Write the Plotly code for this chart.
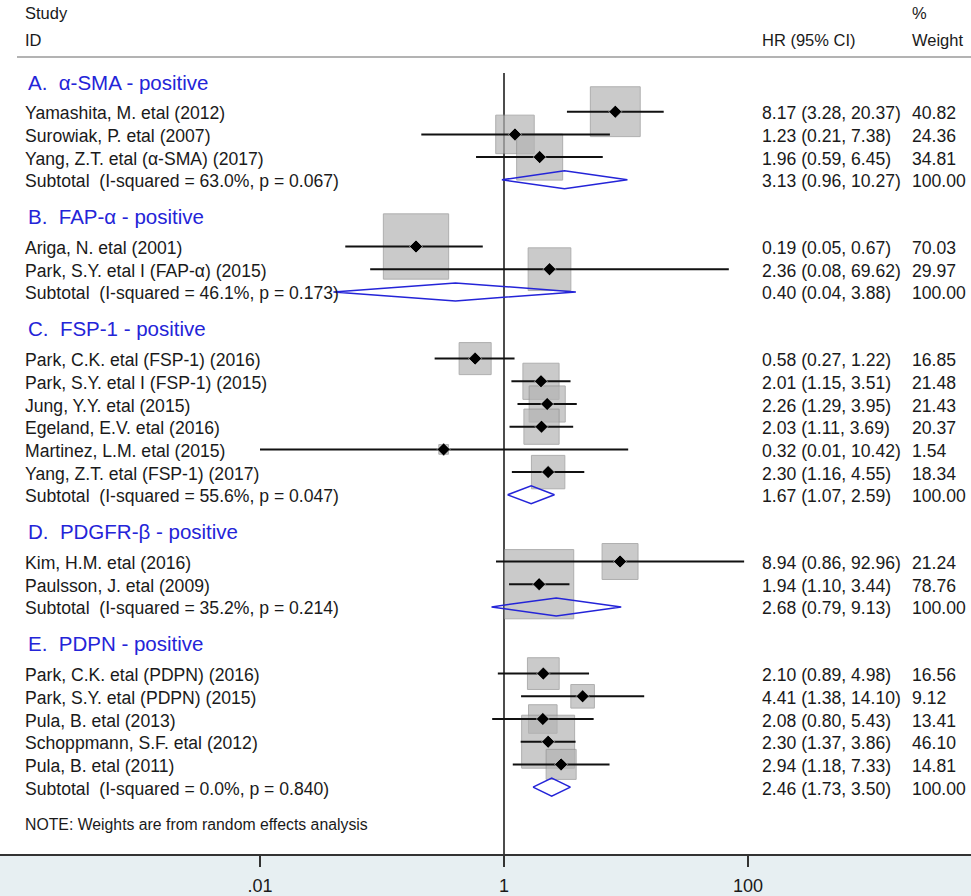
import math
import plotly.graph_objects as go

# ---------------- data ----------------
group_titles = ["A.\u00a0 α-SMA - positive", "B.\u00a0 FAP-α - positive", "C.\u00a0 FSP-1 - positive",
                "D.\u00a0 PDGFR-β - positive", "E.\u00a0 PDPN - positive"]

a_names = ["Yamashita, M. etal (2012)", "Surowiak, P. etal (2007)", "Yang, Z.T. etal (α-SMA) (2017)"]
a_hr = [8.17, 1.23, 1.96]
a_lo = [3.28, 0.21, 0.59]
a_hi = [20.37, 7.38, 6.45]
a_w = [40.82, 24.36, 34.81]

b_names = ["Ariga, N. etal (2001)", "Park, S.Y. etal I (FAP-α) (2015)"]
b_hr = [0.19, 2.36]
b_lo = [0.05, 0.08]
b_hi = [0.67, 69.62]
b_w = [70.03, 29.97]

c_names = ["Park, C.K. etal (FSP-1) (2016)", "Park, S.Y. etal I (FSP-1) (2015)", "Jung, Y.Y. etal (2015)",
           "Egeland, E.V. etal (2016)", "Martinez, L.M. etal (2015)", "Yang, Z.T. etal (FSP-1) (2017)"]
c_hr = [0.58, 2.01, 2.26, 2.03, 0.32, 2.30]
c_lo = [0.27, 1.15, 1.29, 1.11, 0.01, 1.16]
c_hi = [1.22, 3.51, 3.95, 3.69, 10.42, 4.55]
c_w = [16.85, 21.48, 21.43, 20.37, 1.54, 18.34]

d_names = ["Kim, H.M. etal (2016)", "Paulsson, J. etal (2009)"]
d_hr = [8.94, 1.94]
d_lo = [0.86, 1.10]
d_hi = [92.96, 3.44]
d_w = [21.24, 78.76]

e_names = ["Park, C.K. etal (PDPN) (2016)", "Park, S.Y. etal (PDPN) (2015)", "Pula, B. etal (2013)",
           "Schoppmann, S.F. etal (2012)", "Pula, B. etal (2011)"]
e_hr = [2.10, 4.41, 2.08, 2.30, 2.94]
e_lo = [0.89, 1.38, 0.80, 1.37, 1.18]
e_hi = [4.98, 14.10, 5.43, 3.86, 7.33]
e_w = [16.56, 9.12, 13.41, 46.10, 14.81]

sub_i2 = ["63.0%", "46.1%", "55.6%", "35.2%", "0.0%"]
sub_p = ["0.067", "0.173", "0.047", "0.214", "0.840"]
sub_hr = [3.13, 0.40, 1.67, 2.68, 2.46]
sub_lo = [0.96, 0.04, 1.07, 0.79, 1.73]
sub_hi = [10.27, 3.88, 2.59, 9.13, 3.50]

tick_vals = [0.01, 1, 100]
tick_text = [".01", "1", "100"]

note_text = "NOTE: Weights are from random effects analysis"

# ---------------- layout constants ----------------
W, H = 971, 896
BOTTOM = 42
PLOT_H = H - BOTTOM
X_ONE_PX = 504.0
DEC_PX = 122.0
x_range = [(0 - X_ONE_PX) / DEC_PX, (W - X_ONE_PX) / DEC_PX]

Y_START = 82.0
GAP_HEAD = 29.7
STEP = 22.7
GAP_GROUP = 37.0
TEXT_DY = 1.5

LABEL_X = 25
HR_X = 762
WT_X = 912
FONT = "Liberation Sans, Arial, sans-serif"
TXT = "#1a1a1a"
BLUE = "#2424d8"
BOX_K = 7.8
FS = 17.6

groups = [
    (a_names, a_hr, a_lo, a_hi, a_w),
    (b_names, b_hr, b_lo, b_hi, b_w),
    (c_names, c_hr, c_lo, c_hi, c_w),
    (d_names, d_hr, d_lo, d_hi, d_w),
    (e_names, e_hr, e_lo, e_hi, e_w),
]

fig = go.Figure()
annotations = []


def px_to_paper(px):
    return px / W


def add_text(xpx, y, text, size=FS, color=TXT):
    annotations.append(dict(x=px_to_paper(xpx), y=y, xref="paper", yref="y",
                            text=text, showarrow=False, xanchor="left", yanchor="middle",
                            xshift=-2, font=dict(family=FONT, size=size, color=color)))


# reference line at HR = 1 (drawn first, beneath boxes)
fig.add_trace(go.Scatter(x=[1, 1], y=[73, PLOT_H], mode="lines",
                         line=dict(color="#111111", width=1.5), hoverinfo="skip", showlegend=False))

box_x, box_y, box_s = [], [], []
ci_x, ci_y = [], []
pt_x, pt_y = [], []
dia_x, dia_y = [], []

y = Y_START
for gi, (names, hr, lo, hi, w) in enumerate(groups):
    add_text(LABEL_X + 3, y, group_titles[gi], size=20.5, color=BLUE)
    y += GAP_HEAD
    for i in range(len(names)):
        ty = y + TEXT_DY
        add_text(LABEL_X, ty, names[i])
        add_text(HR_X, ty, f"{hr[i]:.2f} ({lo[i]:.2f}, {hi[i]:.2f})")
        add_text(WT_X, ty, f"{w[i]:.2f}")
        box_x.append(hr[i]); box_y.append(y); box_s.append(BOX_K * math.sqrt(w[i]))
        ci_x += [lo[i], hi[i], None]; ci_y += [y, y, None]
        pt_x.append(hr[i]); pt_y.append(y)
        y += STEP
    ty = y + TEXT_DY
    add_text(LABEL_X, ty, f"Subtotal\u00a0 (I-squared = {sub_i2[gi]}, p = {sub_p[gi]})")
    add_text(HR_X, ty, f"{sub_hr[gi]:.2f} ({sub_lo[gi]:.2f}, {sub_hi[gi]:.2f})")
    add_text(WT_X, ty, "100.00")
    dia_x += [sub_lo[gi], sub_hr[gi], sub_hi[gi], sub_hr[gi], sub_lo[gi], None]
    dia_y += [y, y - 9, y, y + 9, y, None]
    y += GAP_GROUP

add_text(LABEL_X, y, note_text, size=15.8)

# headers
add_text(LABEL_X, 13, "Study", size=16.5)
add_text(LABEL_X, 40, "ID", size=16.5)
add_text(HR_X, 40, "HR (95% CI)", size=16.5)
add_text(WT_X, 13, "%", size=16.5)
add_text(WT_X, 40, "Weight", size=16.5)

fig.add_trace(go.Scatter(x=box_x, y=box_y, mode="markers",
                         marker=dict(symbol="square", size=box_s, color="#b4b4b4",
                                     line=dict(color="#8e8e8e", width=1)),
                         hoverinfo="skip", showlegend=False))
fig.add_trace(go.Scatter(x=ci_x, y=ci_y, mode="lines", line=dict(color="#111111", width=2),
                         hoverinfo="skip", showlegend=False, connectgaps=False))
fig.add_trace(go.Scatter(x=pt_x, y=pt_y, mode="markers",
                         marker=dict(symbol="diamond", size=10, color="#000000",
                                     line=dict(color="#ffffff", width=0.5)),
                         hoverinfo="skip", showlegend=False))
fig.add_trace(go.Scatter(x=dia_x, y=dia_y, mode="lines", line=dict(color=BLUE, width=1.5),
                         hoverinfo="skip", showlegend=False, connectgaps=False))

shapes = [dict(type="line", xref="paper", yref="y", x0=17 / W, x1=1, y0=57, y1=57,
               line=dict(color="#9a9a9a", width=1.5))]

fig.update_layout(
    width=W, height=H,
    margin=dict(l=0, r=0, t=0, b=BOTTOM, pad=0),
    paper_bgcolor="#e7eff2", plot_bgcolor="#ffffff",
    annotations=annotations, shapes=shapes,
    xaxis=dict(type="log", range=x_range, tickvals=tick_vals, ticktext=tick_text,
               ticks="outside", ticklen=11, tickwidth=1.5, tickcolor="#333333",
               showline=True, linecolor="#333333", linewidth=1.5, showgrid=False, zeroline=False,
               tickfont=dict(family=FONT, size=18, color=TXT), ticklabelstandoff=4, fixedrange=True),
    yaxis=dict(range=[PLOT_H, 0], visible=False, showgrid=False, zeroline=False, fixedrange=True),
    font=dict(family=FONT),
)

fig.write_html("out.html", config={"displayModeBar": False},
               post_script="document.body.style.margin='0';document.body.style.padding='0';"
                           "document.documentElement.style.overflow='hidden';")
